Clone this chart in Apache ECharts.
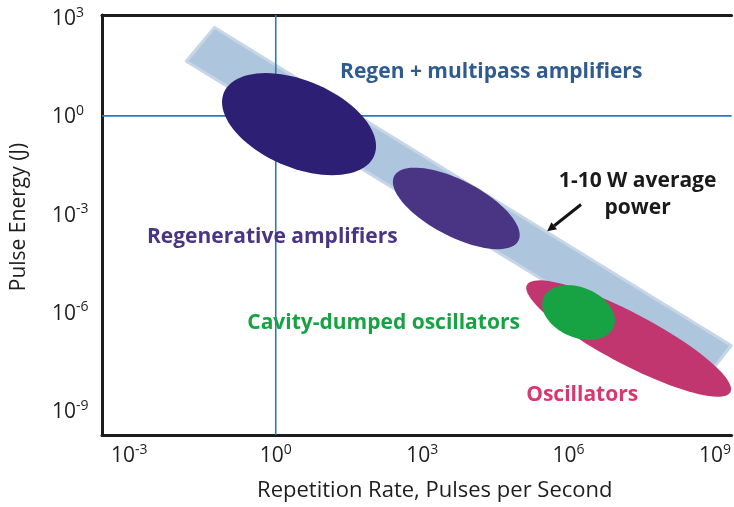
<!DOCTYPE html>
<html>
<head>
<meta charset="utf-8">
<script src="https://cdn.jsdelivr.net/npm/echarts@6/dist/echarts.min.js"></script>
<style>
  html, body { margin: 0; padding: 0; background: #ffffff; }
  #chart { width: 734px; height: 507px; }
</style>
</head>
<body>
<div id="chart"></div>
<script>
// Laser source families: centre repetition rate (pulses/s) and pulse energy (J)
const regionNames  = ['Regen + multipass amplifiers', 'Regenerative amplifiers', 'Oscillators', 'Cavity-dumped oscillators'];
const regionRate   = [3.0, 5.0e3, 1.7e7, 1.6e6];
const regionEnergy = [0.56, 1.5e-3, 1.6e-7, 1.0e-6];

// Constant average power band (1-10 W), corner points
const bandRate   = [0.0556, 2.14e9, 6.2e8, 0.0147];
const bandEnergy = [501, 9.8e-8, 9.1e-9, 46.8];

// Reference lines at 1 pulse/s and 1 J
const refRate   = [1];
const refEnergy = [1];

// Callout arrow pointing at the band (tail, head)
const arrowRate   = [1.8e6, 3.64e5];
const arrowEnergy = [1.97e-3, 2.99e-4];

// Annotation texts and their anchor points
const noteTexts  = ['Regen + multipass amplifiers', 'Regenerative amplifiers', 'Cavity-dumped oscillators', 'Oscillators', '1-10 W average\npower'];
const noteRate   = [2.6e4, 0.85, 162, 1.9e6, 2.6e7];
const noteEnergy = [22.4, 1.95e-4, 4.9e-7, 3.0e-9, 3.9e-3];

// Axis tick exponents (decades)
const xTickExp = [-3, 0, 3, 6, 9];
const yTickExp = [-9, -6, -3, 0, 3];

const FONT = '"Open Sans", "Noto Sans", sans-serif';
const lg = Math.log10;

// Drawing styles for each region ellipse (semi-axes in px, clockwise tilt in degrees)
const regionStyle = [
  { a: 81.5, b: 43.5, tilt: 22.8, color: '#2c1f74' },
  { a: 70,   b: 28,   tilt: 27.5, color: '#4a3585' },
  { a: 115,  b: 25.5, tilt: 27.8, color: '#c2366f' },
  { a: 38,   b: 25,   tilt: 22.7, color: '#17a344' }
];
const noteStyle = [
  { color: '#2f5b8e' },
  { color: '#4a3585' },
  { color: '#17a344' },
  { color: '#d8386f' },
  { color: '#1a1a1a' }
];

function powLabel(v) {
  const e = Math.round(v);
  return '{b|10}{s|' + e + '}';
}

const axisRich = {
  b: { fontSize: 21, fontFamily: FONT, color: '#1e1e1e', verticalAlign: 'bottom' },
  s: { fontSize: 14, fontFamily: FONT, color: '#1e1e1e', verticalAlign: 'bottom', padding: [0, 0, 10, 0] }
};

const chart = echarts.init(document.getElementById('chart'), null, { renderer: 'canvas' });

const option = {
  animation: false,
  backgroundColor: '#ffffff',
  grid: { left: 102, right: 0, top: 15, bottom: 69, containLabel: false },
  xAxis: [
    {
      type: 'value', min: -3.56, max: 9.34,
      name: 'Repetition Rate, Pulses per Second',
      nameLocation: 'middle', nameGap: 45,
      nameTextStyle: { fontSize: 22, fontFamily: FONT, color: '#1e1e1e', padding: [0, 0, 0, 36] },
      axisLine: { show: true, onZero: false, lineStyle: { color: '#1c1c1c', width: 3 } },
      axisTick: { show: false, customValues: xTickExp },
      splitLine: { show: false },
      axisLabel: { customValues: xTickExp, formatter: powLabel, rich: axisRich, margin: 8 }
    },
    {
      type: 'value', min: -3.56, max: 9.34, position: 'top',
      axisLine: { show: true, onZero: false, lineStyle: { color: '#1c1c1c', width: 3 } },
      axisTick: { show: false }, axisLabel: { show: false }, splitLine: { show: false }
    }
  ],
  yAxis: {
    type: 'value', min: -9.74, max: 3.08,
    name: 'Pulse Energy (J)',
    nameLocation: 'middle', nameGap: 72, nameRotate: 90,
    nameTextStyle: { fontSize: 21, fontFamily: FONT, color: '#1e1e1e', padding: [0, 0, 0, 16] },
    axisLine: { show: true, onZero: false, lineStyle: { color: '#1c1c1c', width: 3 } },
    axisTick: { show: false, customValues: yTickExp },
    splitLine: { show: false },
    axisLabel: { customValues: yTickExp, formatter: powLabel, rich: axisRich, align: 'left', margin: 50 }
  },
  series: [
    {
      // 1-10 W constant average power band
      type: 'custom', z: 1, silent: true,
      data: [bandRate.map((r, i) => [lg(r), lg(bandEnergy[i])]).flat()],
      renderItem: function (params, api) {
        const pts = [];
        for (let i = 0; i < bandRate.length; i++) {
          pts.push(api.coord([api.value(2 * i), api.value(2 * i + 1)]));
        }
        return {
          type: 'polygon',
          shape: { points: pts },
          style: { fill: '#adc6dd', stroke: '#c6d6e6', lineWidth: 3, lineJoin: 'round' }
        };
      }
    },
    {
      // Reference lines at 10^0
      type: 'custom', z: 2, silent: true,
      data: [[lg(refRate[0]), lg(refEnergy[0])]],
      renderItem: function (params, api) {
        const cs = params.coordSys;
        const c = api.coord([api.value(0), api.value(1)]);
        const st = { stroke: '#2e78b7', lineWidth: 1.6 };
        return {
          type: 'group',
          children: [
            { type: 'line', shape: { x1: c[0], y1: cs.y, x2: c[0], y2: cs.y + cs.height }, style: st },
            { type: 'line', shape: { x1: cs.x, y1: c[1], x2: cs.x + cs.width, y2: c[1] }, style: st }
          ]
        };
      }
    },
    {
      // Source family regions
      type: 'custom', z: 3, silent: true,
      data: regionRate.map((r, i) => ({ name: regionNames[i], value: [lg(r), lg(regionEnergy[i])] })),
      renderItem: function (params, api) {
        const c = api.coord([api.value(0), api.value(1)]);
        const s = regionStyle[params.dataIndex];
        const th = s.tilt * Math.PI / 180;
        const pts = [];
        const n = 90;
        for (let k = 0; k < n; k++) {
          const t = k / n * 2 * Math.PI;
          const u = Math.cos(t) * s.a, v = Math.sin(t) * s.b;
          pts.push([c[0] + u * Math.cos(th) - v * Math.sin(th), c[1] + u * Math.sin(th) + v * Math.cos(th)]);
        }
        return { type: 'polygon', shape: { points: pts }, style: { fill: s.color } };
      }
    },
    {
      // Callout arrow
      type: 'custom', z: 4, silent: true,
      data: [[lg(arrowRate[0]), lg(arrowEnergy[0]), lg(arrowRate[1]), lg(arrowEnergy[1])]],
      renderItem: function (params, api) {
        const p0 = api.coord([api.value(0), api.value(1)]);
        const p1 = api.coord([api.value(2), api.value(3)]);
        const dx = p1[0] - p0[0], dy = p1[1] - p0[1];
        const len = Math.sqrt(dx * dx + dy * dy);
        const ux = dx / len, uy = dy / len;
        const hl = 9, hw = 4.5;
        const base = [p1[0] - ux * hl, p1[1] - uy * hl];
        return {
          type: 'group',
          children: [
            { type: 'line', shape: { x1: p0[0], y1: p0[1], x2: base[0], y2: base[1] }, style: { stroke: '#141414', lineWidth: 3 } },
            { type: 'polygon', shape: { points: [p1, [base[0] - uy * hw, base[1] + ux * hw], [base[0] + uy * hw, base[1] - ux * hw]] }, style: { fill: '#141414' } }
          ]
        };
      }
    },
    {
      // Annotation labels
      type: 'custom', z: 5, silent: true,
      data: noteRate.map((r, i) => [lg(r), lg(noteEnergy[i])]),
      renderItem: function (params, api) {
        const c = api.coord([api.value(0), api.value(1)]);
        const i = params.dataIndex;
        return {
          type: 'text',
          x: c[0], y: c[1],
          style: {
            text: noteTexts[i],
            fill: noteStyle[i].color,
            fontSize: 21, fontWeight: 'bold', fontFamily: FONT,
            lineHeight: 27,
            align: 'center', verticalAlign: 'middle',
            textAlign: 'center', textVerticalAlign: 'middle'
          }
        };
      }
    }
  ]
};

chart.setOption(option);
</script>
</body>
</html>
